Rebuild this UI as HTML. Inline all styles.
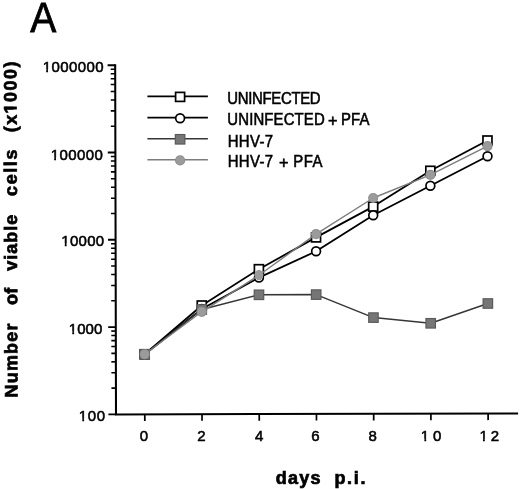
<!DOCTYPE html>
<html><head><meta charset="utf-8"><title>A</title>
<style>
html,body{margin:0;padding:0;background:#fff;}
body{width:520px;height:489px;position:relative;overflow:hidden;font-family:"Liberation Sans",sans-serif;color:#000;}
svg text{font-family:"Liberation Sans",sans-serif;}
#w{position:absolute;left:0;top:0;width:520px;height:489px;background:#fff;will-change:transform;filter:blur(0.4px);}
.t{position:absolute;white-space:nowrap;line-height:1;margin:0;padding:0;}
</style></head><body><div id="w">
<svg width="520" height="489" viewBox="0 0 520 489" style="position:absolute;left:0;top:0">
<rect width="520" height="489" fill="#ffffff"/>
<g fill="#000" stroke="#000" stroke-width="0.7">
<text transform="translate(17.45 397.40) rotate(-90.17) scale(1.0 1)" font-size="18" font-weight="bold" letter-spacing="1.173">Number</text>
<text transform="translate(17.26 305.10) rotate(-90.17) scale(1.0 1)" font-size="18" font-weight="bold" letter-spacing="0.279">of</text>
<text transform="translate(17.10 270.77) rotate(-90.17) scale(1.0 1)" font-size="18" font-weight="bold" letter-spacing="0.991">viable</text>
<text transform="translate(16.89 195.90) rotate(-90.17) scale(1.0 1)" font-size="18" font-weight="bold" letter-spacing="1.577">cells</text>
<text transform="translate(16.66 132.30) rotate(-90.17) scale(1.0 1)" font-size="18" font-weight="bold" letter-spacing="1.458">(x1000)</text><g transform="translate(16.66 132.30) rotate(-90.17) scale(1.0 1)" fill="#fff" stroke="none"><rect x="18.86" y="-2.94" width="4.00" height="4.44"/><rect x="25.86" y="-2.94" width="3.77" height="4.44"/></g>
</g>
<g transform="rotate(-0.135 116 414.4)" stroke="#000" fill="none">
<path d="M116.0 64.25 V414.4 H518.1" stroke-width="2.05" stroke-linejoin="miter"/>
<path d="M108.4 414.40 H116.0" stroke-width="1.9"/>
<path d="M111.5 388.12 H116.0" stroke-width="1.55"/>
<path d="M111.5 372.75 H116.0" stroke-width="1.55"/>
<path d="M111.5 361.84 H116.0" stroke-width="1.55"/>
<path d="M111.5 353.38 H116.0" stroke-width="1.55"/>
<path d="M111.5 346.47 H116.0" stroke-width="1.55"/>
<path d="M111.5 340.62 H116.0" stroke-width="1.55"/>
<path d="M111.5 335.56 H116.0" stroke-width="1.55"/>
<path d="M111.5 331.09 H116.0" stroke-width="1.55"/>
<path d="M108.4 327.10 H116.0" stroke-width="1.9"/>
<path d="M111.5 300.82 H116.0" stroke-width="1.55"/>
<path d="M111.5 285.45 H116.0" stroke-width="1.55"/>
<path d="M111.5 274.54 H116.0" stroke-width="1.55"/>
<path d="M111.5 266.08 H116.0" stroke-width="1.55"/>
<path d="M111.5 259.17 H116.0" stroke-width="1.55"/>
<path d="M111.5 253.32 H116.0" stroke-width="1.55"/>
<path d="M111.5 248.26 H116.0" stroke-width="1.55"/>
<path d="M111.5 243.79 H116.0" stroke-width="1.55"/>
<path d="M108.4 239.80 H116.0" stroke-width="1.9"/>
<path d="M111.5 213.52 H116.0" stroke-width="1.55"/>
<path d="M111.5 198.15 H116.0" stroke-width="1.55"/>
<path d="M111.5 187.24 H116.0" stroke-width="1.55"/>
<path d="M111.5 178.78 H116.0" stroke-width="1.55"/>
<path d="M111.5 171.87 H116.0" stroke-width="1.55"/>
<path d="M111.5 166.02 H116.0" stroke-width="1.55"/>
<path d="M111.5 160.96 H116.0" stroke-width="1.55"/>
<path d="M111.5 156.49 H116.0" stroke-width="1.55"/>
<path d="M108.4 152.50 H116.0" stroke-width="1.9"/>
<path d="M111.5 126.22 H116.0" stroke-width="1.55"/>
<path d="M111.5 110.85 H116.0" stroke-width="1.55"/>
<path d="M111.5 99.94 H116.0" stroke-width="1.55"/>
<path d="M111.5 91.48 H116.0" stroke-width="1.55"/>
<path d="M111.5 84.57 H116.0" stroke-width="1.55"/>
<path d="M111.5 78.72 H116.0" stroke-width="1.55"/>
<path d="M111.5 73.66 H116.0" stroke-width="1.55"/>
<path d="M111.5 69.19 H116.0" stroke-width="1.55"/>
<path d="M108.4 65.20 H116.0" stroke-width="1.9"/>
<path d="M144.80 414.4 V421.0" stroke-width="1.7"/>
<path d="M202.02 414.4 V421.0" stroke-width="1.7"/>
<path d="M259.24 414.4 V421.0" stroke-width="1.7"/>
<path d="M316.46 414.4 V421.0" stroke-width="1.7"/>
<path d="M373.68 414.4 V421.0" stroke-width="1.7"/>
<path d="M430.90 414.4 V421.0" stroke-width="1.7"/>
<path d="M488.12 414.4 V421.0" stroke-width="1.7"/>
</g>
<path d="M147.4 96.3 H207.9" stroke="#000" stroke-width="1.8"/>
<rect x="175.60" y="92.40" width="9" height="9" fill="#fff" stroke="#000" stroke-width="1.7"/>
<path d="M147.4 117.7 H207.9" stroke="#000" stroke-width="1.8"/>
<circle cx="180.10" cy="118.30" r="4.4" fill="#fff" stroke="#000" stroke-width="1.7"/>
<path d="M147.4 138.7 H207.9" stroke="#363636" stroke-width="1.5"/>
<rect x="174.75" y="133.95" width="10.7" height="10.7" fill="#5a5a5a"/><rect x="175.90" y="135.10" width="8.4" height="8.4" fill="#767676"/>
<path d="M147.4 159.8 H207.9" stroke="#7c7c7c" stroke-width="1.4"/>
<circle cx="180.10" cy="160.40" r="5.1" fill="#8e8e8e"/><circle cx="180.10" cy="160.40" r="4.2" fill="#9b9b9b"/>
<path d="M144.66 354.30 L201.76 305.50 L258.90 269.20 L316.04 237.40 L373.19 206.60 L430.33 170.80 L487.47 140.50" fill="none" stroke="#000" stroke-width="1.8" stroke-linejoin="round"/>
<rect x="140.16" y="349.80" width="9" height="9" fill="#fff" stroke="#000" stroke-width="1.7"/>
<rect x="197.26" y="301.00" width="9" height="9" fill="#fff" stroke="#000" stroke-width="1.7"/>
<rect x="254.40" y="264.70" width="9" height="9" fill="#fff" stroke="#000" stroke-width="1.7"/>
<rect x="311.54" y="232.90" width="9" height="9" fill="#fff" stroke="#000" stroke-width="1.7"/>
<rect x="368.69" y="202.10" width="9" height="9" fill="#fff" stroke="#000" stroke-width="1.7"/>
<rect x="425.83" y="166.30" width="9" height="9" fill="#fff" stroke="#000" stroke-width="1.7"/>
<rect x="482.97" y="136.00" width="9" height="9" fill="#fff" stroke="#000" stroke-width="1.7"/>
<path d="M144.66 354.30 L201.77 309.00 L258.92 277.60 L316.08 251.30 L373.21 215.20 L430.36 185.80 L487.51 156.30" fill="none" stroke="#000" stroke-width="1.8" stroke-linejoin="round"/>
<circle cx="144.66" cy="354.30" r="4.4" fill="#fff" stroke="#000" stroke-width="1.7"/>
<circle cx="201.77" cy="309.00" r="4.4" fill="#fff" stroke="#000" stroke-width="1.7"/>
<circle cx="258.92" cy="277.60" r="4.4" fill="#fff" stroke="#000" stroke-width="1.7"/>
<circle cx="316.08" cy="251.30" r="4.4" fill="#fff" stroke="#000" stroke-width="1.7"/>
<circle cx="373.21" cy="215.20" r="4.4" fill="#fff" stroke="#000" stroke-width="1.7"/>
<circle cx="430.36" cy="185.80" r="4.4" fill="#fff" stroke="#000" stroke-width="1.7"/>
<circle cx="487.51" cy="156.30" r="4.4" fill="#fff" stroke="#000" stroke-width="1.7"/>
<path d="M144.66 354.30 L201.77 309.50 L258.96 294.80 L316.18 294.60 L373.45 317.60 L430.69 323.30 L487.86 303.50" fill="none" stroke="#363636" stroke-width="1.5" stroke-linejoin="round"/>
<rect x="139.31" y="348.95" width="10.7" height="10.7" fill="#5a5a5a"/><rect x="140.46" y="350.10" width="8.4" height="8.4" fill="#767676"/>
<rect x="196.42" y="304.15" width="10.7" height="10.7" fill="#5a5a5a"/><rect x="197.57" y="305.30" width="8.4" height="8.4" fill="#767676"/>
<rect x="253.61" y="289.45" width="10.7" height="10.7" fill="#5a5a5a"/><rect x="254.76" y="290.60" width="8.4" height="8.4" fill="#767676"/>
<rect x="310.83" y="289.25" width="10.7" height="10.7" fill="#5a5a5a"/><rect x="311.98" y="290.40" width="8.4" height="8.4" fill="#767676"/>
<rect x="368.10" y="312.25" width="10.7" height="10.7" fill="#5a5a5a"/><rect x="369.25" y="313.40" width="8.4" height="8.4" fill="#767676"/>
<rect x="425.34" y="317.95" width="10.7" height="10.7" fill="#5a5a5a"/><rect x="426.49" y="319.10" width="8.4" height="8.4" fill="#767676"/>
<rect x="482.51" y="298.15" width="10.7" height="10.7" fill="#5a5a5a"/><rect x="483.66" y="299.30" width="8.4" height="8.4" fill="#767676"/>
<path d="M144.66 354.30 L201.78 311.80 L258.91 275.20 L316.03 234.10 L373.17 198.00 L430.33 174.90 L487.49 146.10" fill="none" stroke="#7c7c7c" stroke-width="1.4" stroke-linejoin="round"/>
<circle cx="144.66" cy="354.30" r="5.1" fill="#8e8e8e"/><circle cx="144.66" cy="354.30" r="4.2" fill="#9b9b9b"/>
<circle cx="201.78" cy="311.80" r="5.1" fill="#8e8e8e"/><circle cx="201.78" cy="311.80" r="4.2" fill="#9b9b9b"/>
<ellipse cx="258.91" cy="275.00" rx="4.4" ry="5.3" fill="#9a9a9a"/>
<circle cx="316.03" cy="234.10" r="5.1" fill="#8e8e8e"/><circle cx="316.03" cy="234.10" r="4.2" fill="#9b9b9b"/>
<circle cx="373.17" cy="198.00" r="5.1" fill="#8e8e8e"/><circle cx="373.17" cy="198.00" r="4.2" fill="#9b9b9b"/>
<circle cx="430.33" cy="174.90" r="5.1" fill="#8e8e8e"/><circle cx="430.33" cy="174.90" r="4.2" fill="#9b9b9b"/>
<circle cx="487.49" cy="146.10" r="5.1" fill="#8e8e8e"/><circle cx="487.49" cy="146.10" r="4.2" fill="#9b9b9b"/>
<g fill="#000" stroke="#000"><text class="m" transform="translate(30.2 32.1) scale(0.9 1)" font-size="43.4" stroke-width="0.8">A</text><text class="m" transform="translate(78.76 420.80) scale(1.0 1)" font-size="15.0" letter-spacing="0.651" stroke-width="0.55">100</text><g transform="translate(78.76 420.80) scale(1.0 1)" fill="#fff" stroke="none"><rect x="-0.06" y="-2.42" width="3.56" height="3.92"/><rect x="5.37" y="-2.42" width="3.44" height="3.92"/></g><text class="m" transform="translate(68.76 333.50) scale(1.0 1)" font-size="15.0" letter-spacing="0.086" stroke-width="0.55">1000</text><g transform="translate(68.76 333.50) scale(1.0 1)" fill="#fff" stroke="none"><rect x="-0.06" y="-2.42" width="3.56" height="3.92"/><rect x="5.37" y="-2.42" width="3.44" height="3.92"/></g><text class="m" transform="translate(61.26 245.90) scale(1.0 1)" font-size="15.0" letter-spacing="0.304" stroke-width="0.55">10000</text><g transform="translate(61.26 245.90) scale(1.0 1)" fill="#fff" stroke="none"><rect x="-0.06" y="-2.42" width="3.56" height="3.92"/><rect x="5.37" y="-2.42" width="3.44" height="3.92"/></g><text class="m" transform="translate(50.66 159.70) scale(1.0 1)" font-size="15.0" letter-spacing="0.415" stroke-width="0.55">100000</text><g transform="translate(50.66 159.70) scale(1.0 1)" fill="#fff" stroke="none"><rect x="-0.06" y="-2.42" width="3.56" height="3.92"/><rect x="5.37" y="-2.42" width="3.44" height="3.92"/></g><text class="m" transform="translate(42.66 71.50) scale(1.0 1)" font-size="15.0" letter-spacing="0.422" stroke-width="0.55">1000000</text><g transform="translate(42.66 71.50) scale(1.0 1)" fill="#fff" stroke="none"><rect x="-0.06" y="-2.42" width="3.56" height="3.92"/><rect x="5.37" y="-2.42" width="3.44" height="3.92"/></g><text class="m" transform="translate(139.63 441.00) scale(1.0 1)" font-size="15.0" letter-spacing="0.000" stroke-width="0.55">0</text><text class="m" transform="translate(197.13 441.00) scale(1.0 1)" font-size="15.0" letter-spacing="0.000" stroke-width="0.55">2</text><text class="m" transform="translate(254.88 441.00) scale(1.0 1)" font-size="15.0" letter-spacing="0.000" stroke-width="0.55">4</text><text class="m" transform="translate(311.18 441.00) scale(1.0 1)" font-size="15.0" letter-spacing="0.000" stroke-width="0.55">6</text><text class="m" transform="translate(368.48 441.00) scale(1.0 1)" font-size="15.0" letter-spacing="0.000" stroke-width="0.55">8</text><text class="m" transform="translate(420.86 441.00) scale(1.0 1)" font-size="15.0" letter-spacing="3.744" stroke-width="0.55">10</text><g transform="translate(420.86 441.00) scale(1.0 1)" fill="#fff" stroke="none"><rect x="-0.06" y="-2.42" width="3.56" height="3.92"/><rect x="5.37" y="-2.42" width="3.44" height="3.92"/></g><text class="m" transform="translate(479.46 441.00) scale(1.0 1)" font-size="15.0" letter-spacing="3.012" stroke-width="0.55">12</text><g transform="translate(479.46 441.00) scale(1.0 1)" fill="#fff" stroke="none"><rect x="-0.06" y="-2.42" width="3.56" height="3.92"/><rect x="5.37" y="-2.42" width="3.44" height="3.92"/></g><text class="m" transform="translate(275.86 484.00) scale(1.0 1)" font-size="18" font-weight="bold" letter-spacing="1.183" stroke-width="0.7">days</text><text class="m" transform="translate(334.41 484.00) scale(1.0 1)" font-size="18" font-weight="bold" letter-spacing="1.676" stroke-width="0.7">p.i.</text><text class="m" transform="translate(227.35 103.70) scale(0.918 1)" font-size="16.3" letter-spacing="-0.370" stroke-width="0.55">UNINFECTED</text><text class="m" transform="translate(227.35 124.70) scale(0.918 1)" font-size="16.3" letter-spacing="0.126" stroke-width="0.55">UNINFECTED</text><text class="m" transform="translate(327.99 126.20) scale(1.0 1)" font-size="16.3" letter-spacing="0.000" stroke-width="0.55">+</text><text class="m" transform="translate(341.07 124.70) scale(0.918 1)" font-size="16.3" letter-spacing="0.085" stroke-width="0.55">PFA</text><text class="m" transform="translate(227.67 146.50) scale(0.918 1)" font-size="16.3" letter-spacing="0.377" stroke-width="0.55">HHV-7</text><text class="m" transform="translate(227.67 166.90) scale(0.918 1)" font-size="16.3" letter-spacing="0.377" stroke-width="0.55">HHV-7</text><text class="m" transform="translate(278.99 168.40) scale(1.0 1)" font-size="16.3" letter-spacing="0.000" stroke-width="0.55">+</text><text class="m" transform="translate(293.17 166.90) scale(0.918 1)" font-size="16.3" letter-spacing="0.629" stroke-width="0.55">PFA</text></g>
</svg>

</div></body></html>
